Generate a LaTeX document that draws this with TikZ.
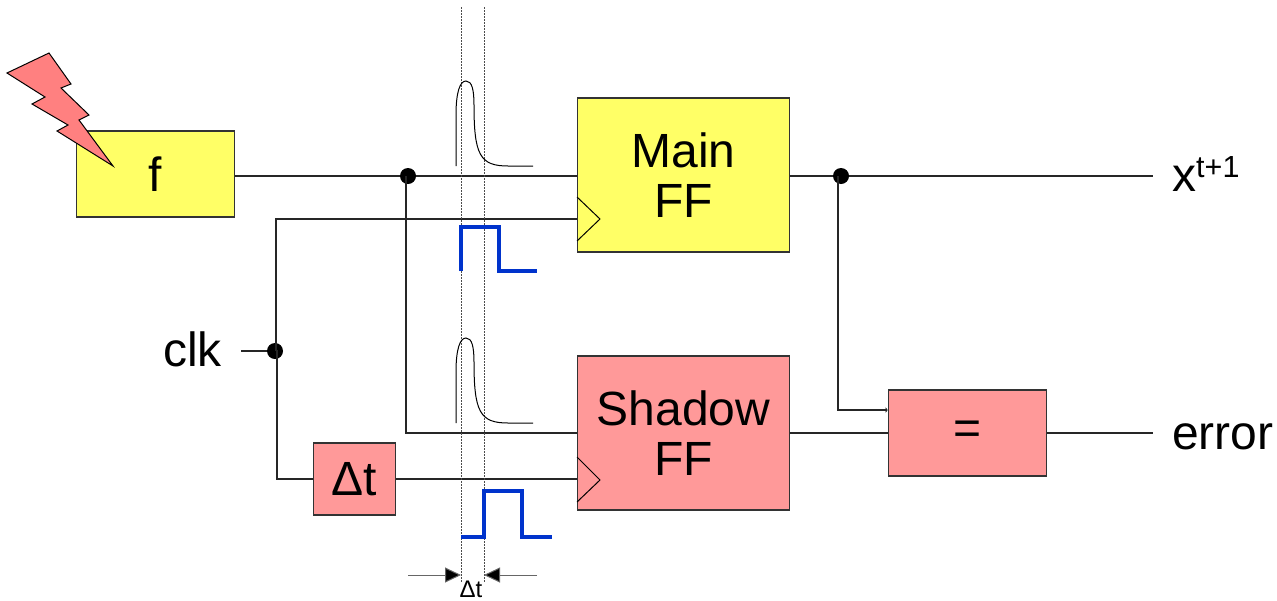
\documentclass[tikz,border=0pt]{standalone}
\usepackage{fontspec}
\setmainfont{Liberation Sans}
\usetikzlibrary{arrows.meta}
\definecolor{ffyellow}{HTML}{FFFF66}
\definecolor{ffred}{HTML}{FF9999}
\definecolor{boltred}{HTML}{FF8080}
\definecolor{pulseblue}{HTML}{0033CC}
\tikzset{
  blockbox/.style={draw=black!80,line width=1.1pt,inner sep=0pt,align=center,font=\fontsize{48}{50}\selectfont},
  wire/.style={draw=black!85,line width=1.2pt},
  dot/.style={circle,fill=black,inner sep=0pt,minimum size=16pt},
  timeline/.style={black!70,line width=1pt,dash pattern=on 1.5pt off 1.5pt},
  pulse/.style={pulseblue,line width=3.2pt},
  sigtext/.style={inner sep=0pt,font=\fontsize{48}{50}\selectfont}
}
\begin{document}
\begin{tikzpicture}[x=1pt,y=-1pt]
    \useasboundingbox (0,0) rectangle (1277,600);
    % Draw blocks
    \node[blockbox,fill=ffyellow,minimum width=158.5pt,minimum height=86pt] (fblock) at (155.5,174) {f};
    \node[blockbox,fill=ffyellow,minimum width=212.5pt,minimum height=154pt] (mainff) at (683.5,175) {Main\\FF};
    \node[blockbox,fill=ffred,minimum width=212.5pt,minimum height=154pt] (shadowff) at (683.5,433) {Shadow\\FF};
    \node[blockbox,fill=ffred,minimum width=158.5pt,minimum height=86pt] (cmpblock) at (967.5,433) {\raisebox{-2pt}{=}};
    \node[blockbox,fill=ffred,minimum width=82.5pt,minimum height=72pt] (delayblock) at (354.5,479) {Δt};
    % Draw lightning
    \draw[fill=boltred,line width=1pt] (49,53) -- (71,84) -- (61,88) -- (89,115) -- (79,120)
          -- (113,166) -- (57,131) -- (68,125) -- (32,104) -- (45,97) -- (7,73) -- cycle;
    % Draw labels
    \node[sigtext,anchor=base] (clklabel) at (192.5,366) {clk};
    \node[sigtext,anchor=base west] (xlabel) at (1172,191) {x\raisebox{14pt}{\fontsize{30.5}{30}\selectfont t+1}};
    \node[sigtext,anchor=base west] (errlabel) at (1172,449) {error};
    \node[inner sep=0pt,font=\fontsize{24}{24}\selectfont,anchor=base] (dtlabel) at (471,597) {Δt};
    % Draw junctions
    \node[dot] (datadot) at (408,176) {};
    \node[dot] (outdot) at (841,176) {};
    \node[dot] (clkdot) at (275,351) {};
    \coordinate (xend) at (1153,176);
    \coordinate (errend) at (1153,433);
    \coordinate (clkstart) at (241,351);
    % Draw wires
    \draw[wire] (fblock.east |- datadot) -- (datadot) -- (datadot -| mainff.west);
    \draw[wire] ([xshift=-2pt]datadot.center) |- (shadowff.west);
    \draw[wire] (clkstart) -- (clkdot);
    \draw[wire] (mainff.east |- outdot) -- (outdot) -- (xend);
    \draw[wire,-{Latex[length=2pt,width=6pt]}] ([xshift=-3pt]outdot.center) |- (cmpblock.west |- 0,410);
    \draw[wire] (shadowff.east) -- (cmpblock.west);
    \draw[wire] (cmpblock.east) -- (errend);
    \draw[wire] (mainff.west |- 0,219) -| ([xshift=1pt]clkdot.center);
    \draw[wire] ([xshift=1pt]clkdot.center) -- ++(1,0) |- (delayblock.west);
    \draw[wire] (delayblock.east) -- (delayblock.east -| shadowff.west);
    % Draw clock inputs
    \draw[line width=1pt] (577,197) -- (600,219) -- (577,241);
    \draw[line width=1pt] (577,457) -- (600,480) -- (577,502);
    % Draw time lines
    \coordinate (dtleft) at (461,575);
    \coordinate (dtright) at (484,575);
    \draw[timeline] (461,7) -- (461,583);
    \draw[timeline] (484,7) -- (484,583);
    \draw[black!60,line width=1pt,-{Triangle[length=16pt,width=15pt,fill=black]}] (408,575) -- (dtleft);
    \draw[black!60,line width=1pt,-{Triangle[length=16pt,width=15pt,fill=black]}] (537,575) -- (dtright);
    % Draw glitches
    \foreach \yo in {0,257} {
      \draw[black,line width=1pt] (456,166+\yo) -- (456,115+\yo)
            .. controls (456,92+\yo) and (460,81+\yo) .. (466,81+\yo)
            .. controls (472,81+\yo) and (474,90+\yo) .. (474,105+\yo)
            .. controls (474,155+\yo) and (480,166+\yo) .. (508,166+\yo) -- (533,166+\yo);
    }
    % Draw clock pulses
    \draw[pulse] (461,271) -- (461,227) -- (499,227) -- (499,271) -- (537,271);
    \draw[pulse] (461,537) -- (484,537) -- (484,491) -- (522,491) -- (522,537) -- (552,537);
\end{tikzpicture}
\end{document}
